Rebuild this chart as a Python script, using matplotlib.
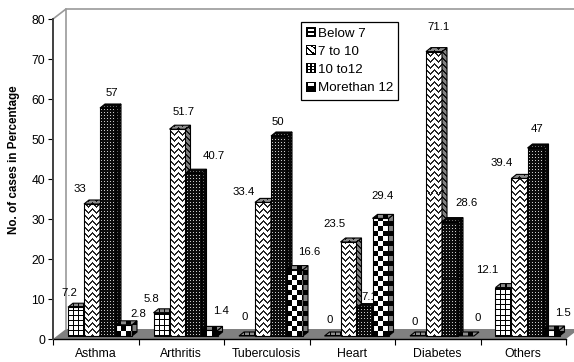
import numpy as np
import matplotlib
matplotlib.use("Agg")
import matplotlib.pyplot as plt
from matplotlib.patches import Polygon, Rectangle
from matplotlib.legend_handler import HandlerBase

plt.rcParams['font.family'] = ['Liberation Sans', 'DejaVu Sans']

categories = ['Asthma', 'Arthritis', 'Tuberculosis', 'Heart', 'Diabetes', 'Others']
series_names = ['Below 7', '7 to 10', '10 to12', 'Morethan 12']
below_7 = [7.2, 5.8, 0, 0, 0, 12.1]
from_7_to_10 = [33, 51.7, 33.4, 23.5, 71.1, 39.4]
from_10_to_12 = [57, 40.7, 50, 7.1, 28.6, 47]
more_than_12 = [2.8, 1.4, 16.6, 29.4, 0, 1.5]
series = [below_7, from_7_to_10, from_10_to_12, more_than_12]
y_ticks = [0, 10, 20, 30, 40, 50, 60, 70, 80]

# label offsets in pixels from the centre of each bar's top edge (per series, per category)
label_dx = [[-7, -10, -2, -3, -3, -16], [-12, 6, -19, -14, 5, -18],
            [4, 20, -1, 5, 17, 2], [14, 12, 14, 2, 12, 11]]
label_dy = [[14, 14, 19, 16, 14, 18], [15, 17, 10, 18, 25, 15],
            [15, 17, 14, 11, 19, 19], [11, 19, 18, 22, 18, 17]]

W, H = 574, 362
fig = plt.figure(figsize=(W / 100, H / 100), dpi=100, facecolor='white')
ax = fig.add_axes([53 / W, (H - 339) / H, 513 / W, 320 / H])
px, py = 6 / 513, 80 / 320   # data units per pixel


def tile(kind):
    if kind == 0:      # grid
        t = np.zeros((5, 5)); t[0, :] = 1; t[:, 0] = 1
    elif kind == 1:    # zigzag
        t = np.zeros((6, 8))
        for r in range(6):
            for c in range(8):
                if (r + min(c, 8 - c)) % 6 < 2:
                    t[r, c] = 0.85
    elif kind == 2:    # dense dots
        t = np.full((3, 3), 0.95); t[1, 1] = 0.2
    else:              # checker
        t = np.zeros((10, 10)); t[:5, :5] = 1; t[5:, 5:] = 1
    return t


def face(pts, kind, shade, z):
    """pts in data coordinates; fills with a pixel pattern clipped to the polygon."""
    pts = np.array(pts, float)
    x0, x1, y0, y1 = pts[:, 0].min(), pts[:, 0].max(), pts[:, 1].min(), pts[:, 1].max()
    nx = max(int(round((x1 - x0) / px)), 1)
    ny = max(int(round((y1 - y0) / py)), 1)
    t = tile(kind)
    arr = np.tile(t, (ny // t.shape[0] + 1, nx // t.shape[1] + 1))[:ny, :nx]
    img = (1 - arr) * shade
    poly = Polygon(pts, closed=True, facecolor='none', edgecolor='black',
                   linewidth=0.8, zorder=z + 0.1, clip_on=False)
    ax.add_patch(poly)
    im = ax.imshow(img, extent=[x0, x1, y0, y1], origin='lower', cmap='gray', vmin=0, vmax=1,
                   interpolation='nearest', aspect='auto', zorder=z)
    im.set_clip_path(poly)


depth_x, depth_y = 13 * px, 10 * py
bar_dx, bar_dy = 5 * px, 4 * py
bar_w = 16 * px
base = 3 * py
start = 15 * px
n = len(categories)

# floor and walls
ax.add_patch(Polygon([(0, 0), (n, 0), (n + depth_x, depth_y), (depth_x, depth_y)], closed=True,
                     facecolor='#808080', edgecolor='none', zorder=1, clip_on=False))
ax.plot([0, depth_x, depth_x], [80, 80 + depth_y, depth_y], color='#999999', lw=1.2,
        zorder=1, clip_on=False)
ax.plot([depth_x, n + depth_x], [80 + depth_y, 80 + depth_y], color='#999999', lw=1.2,
        zorder=1, clip_on=False)

z = 5
for i in range(n):
    for k, vals in enumerate(series):
        v = vals[i]
        x0 = i + start + k * bar_w
        x1 = x0 + bar_w
        yb, yt = base, base + v
        if v > 0:
            face([(x0, yb), (x1, yb), (x1, yt), (x0, yt)], k, 1.0, z)
            face([(x1, yb), (x1 + bar_dx, yb + bar_dy), (x1 + bar_dx, yt + bar_dy), (x1, yt)],
                 k, 0.5, z + 0.2)
        face([(x0, yt), (x1, yt), (x1 + bar_dx, yt + bar_dy), (x0 + bar_dx, yt + bar_dy)],
             k, 0.55, z + 0.4)
        z += 1
        ax.annotate(f'{v:g}', xy=(x0 + bar_w / 2, yt),
                    xytext=(label_dx[k][i] * 0.72, label_dy[k][i] * 0.72),
                    textcoords='offset points', ha='center', va='center',
                    fontsize=8.2, color='black', zorder=3, annotation_clip=False)

ax.set_xlim(0, n)
ax.set_ylim(0, 80)
ax.patch.set_visible(False)
for s in ('top', 'right'):
    ax.spines[s].set_visible(False)
ax.spines['left'].set_color('#404040')
ax.spines['left'].set_linewidth(1.4)
ax.spines['bottom'].set_color('black')
ax.spines['bottom'].set_linewidth(1.0)
ax.spines['bottom'].set_zorder(2)
ax.set_yticks(y_ticks)
ax.tick_params(axis='y', length=3.6, width=0.8, pad=2.2, labelsize=8.7, color='black')
ax.set_xticks(np.arange(n + 1))
ax.set_xticklabels([])
ax.tick_params(axis='x', which='major', length=4.3, width=0.8, color='black')
ax.set_xticks(np.arange(n) + 0.5, minor=True)
ax.set_xticklabels(categories, minor=True, fontsize=8.8)
ax.tick_params(axis='x', which='minor', length=0, pad=6.6)

fig.text(14.5 / W, 1 - 160 / H, 'No. of cases in Percentage', rotation=90, ha='center',
         va='center', fontsize=8.4, fontweight='bold')

ICONS = [
    ["1111111111", "1111111111", "1100000011", "1100000011", "1111111111",
     "1111111111", "1100000011", "1100000011", "1111111111", "1111111111"],
    ["1111111111", "1000011001", "1100000111", "1110000011", "1011000001",
     "1001100001", "1000110001", "1000011101", "1100001111", "1111111111"],
    ["1111111111", "1100110011", "1100110011", "1111111111", "1100110011",
     "1100110011", "1111111111", "1100110011", "1100110011", "1111111111"],
    ["1111111111", "1100000011", "1100000011", "1100000011", "1111111111",
     "1111111111", "1111111111", "1111111111", "1111111111", "1111111111"],
]


class IconHandler(HandlerBase):
    def __init__(self, icon):
        super().__init__()
        self.icon = icon

    def create_artists(self, legend, orig, xd, yd, width, height, fontsize, trans):
        s = width / 10
        y_off = -yd + (height - width) / 2
        arts = []
        for r, row in enumerate(self.icon):
            for c, ch in enumerate(row):
                if ch == '1':
                    arts.append(Rectangle((-xd + c * s, y_off + (9 - r) * s), s, s, facecolor='black',
                                          edgecolor='none', transform=trans))
        return arts


handles = [Rectangle((0, 0), 1, 1) for _ in series_names]
leg = ax.legend(handles, series_names, loc='upper left',
                bbox_to_anchor=(301 / W, 1 - 22 / H), bbox_transform=fig.transFigure,
                borderaxespad=0, fontsize=9.6, frameon=True, fancybox=False, framealpha=1,
                edgecolor='black', handlelength=0.75, handleheight=0.75, handletextpad=0.1,
                labelspacing=0.42, borderpad=0.4,
                handler_map={h: IconHandler(ic) for h, ic in zip(handles, ICONS)})
leg.get_frame().set_linewidth(0.9)
leg.set_zorder(1000)

fig.savefig('out.png', dpi=100)
